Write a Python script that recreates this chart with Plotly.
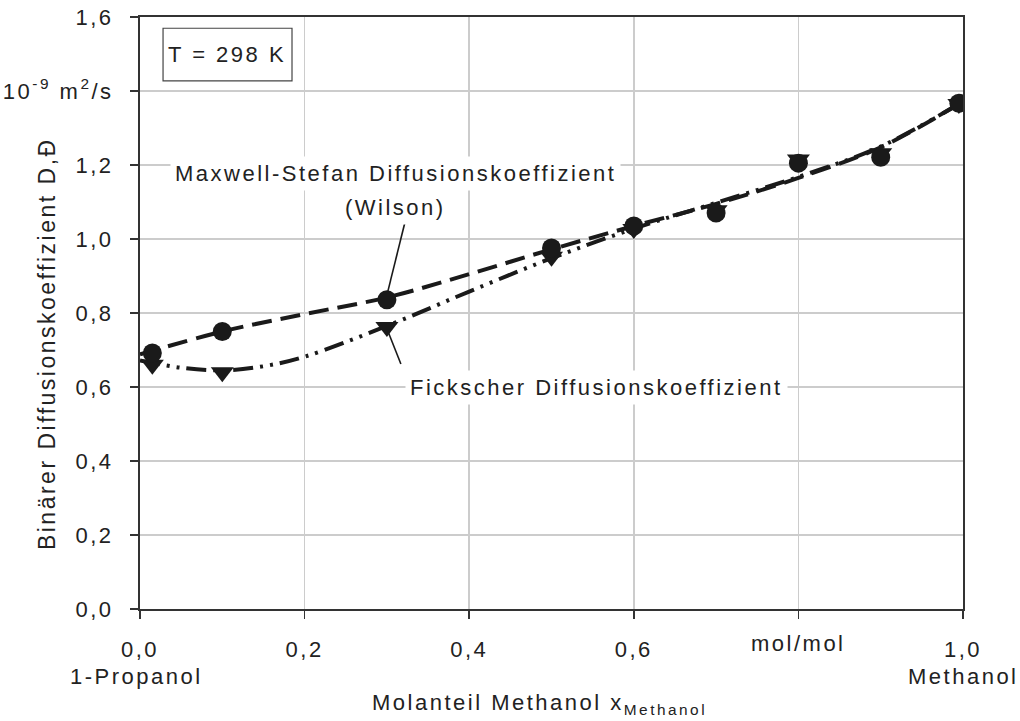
import plotly.graph_objects as go

# Measured points (mole fraction methanol)
x_meas = [0.015, 0.1, 0.3, 0.5, 0.6, 0.7, 0.8, 0.9, 0.995]
d_ms_meas = [0.692, 0.750, 0.836, 0.976, 1.035, 1.070, 1.205, 1.221, 1.367]
d_fick_meas = [0.660, 0.640, 0.762, 0.952, 1.027, 1.078, 1.215, 1.232, 1.365]

# Model curves
x_ms_curve = [0.0, 0.1, 0.2, 0.3, 0.4, 0.5, 0.6, 0.7, 0.8, 0.9, 0.995]
d_ms_curve = [0.688, 0.750, 0.797, 0.842, 0.905, 0.972, 1.035, 1.095, 1.165, 1.248, 1.365]
x_fick_curve = [0.0, 0.05, 0.1, 0.15, 0.2, 0.3, 0.4, 0.5, 0.6, 0.7, 0.8, 0.9, 0.995]
d_fick_curve = [0.672, 0.652, 0.645, 0.656, 0.682, 0.765, 0.858, 0.948, 1.028, 1.098, 1.168, 1.250, 1.365]

x_tickvals = [0.0, 0.2, 0.4, 0.6, 0.8, 1.0]
x_ticktext = ["0,0", "0,2", "0,4", "0,6", "", "1,0"]
y_tickvals = [0.0, 0.2, 0.4, 0.6, 0.8, 1.0, 1.2, 1.4, 1.6]
y_ticktext = ["0,0", "0,2", "0,4", "0,6", "0,8", "1,0", "1,2", "10<sup>-9</sup> m<sup>2</sup>/s", "1,6"]

INK = "#1a1a1a"
TXT = "#222222"
GRID = "#cccccc"
AX = "#333333"

fig = go.Figure()

fig.add_trace(go.Scatter(
    x=x_fick_curve, y=d_fick_curve, mode="lines",
    line=dict(color=INK, width=4, shape="spline", smoothing=1.0,
              dash="20px,7px,3px,7px,3px,7px"),
    hoverinfo="skip"))
fig.add_trace(go.Scatter(
    x=x_ms_curve, y=d_ms_curve, mode="lines",
    line=dict(color=INK, width=4, shape="spline", smoothing=1.0, dash="20px,9px"),
    hoverinfo="skip"))
fig.add_trace(go.Scatter(
    x=x_meas, y=d_fick_meas, mode="markers",
    marker=dict(symbol="triangle-down", size=20, color=INK, line=dict(width=0))))
fig.add_trace(go.Scatter(
    x=x_meas, y=d_ms_meas, mode="markers",
    marker=dict(symbol="circle", size=19, color=INK, line=dict(width=0))))

# Leader lines to the labelled points
fig.add_shape(type="line", xref="x", yref="y", x0=0.322, y0=1.046, x1=0.301, y1=0.857,
              line=dict(color=INK, width=1.6))
fig.add_shape(type="line", xref="x", yref="y", x0=0.301, y0=0.752, x1=0.317, y1=0.662,
              line=dict(color=INK, width=1.6))

# Temperature box
fig.add_shape(type="rect", xref="paper", yref="paper", x0=0.028, x1=0.1847, y0=0.892, y1=0.981,
              fillcolor="white", line=dict(color="#444444", width=1.2), layer="above")

ann_font = dict(size=22, color=TXT)
fig.add_annotation(x=0.106, y=0.9365, xref="paper", yref="paper", text="T = 298 K",
                   showarrow=False, font=ann_font, xanchor="center", yanchor="middle")
fig.add_annotation(x=0.311, y=1.178, xref="x", yref="y",
                   text="Maxwell-Stefan Diffusionskoeffizient", showarrow=False,
                   font=ann_font, bgcolor="white", borderpad=4)
fig.add_annotation(x=0.311, y=1.084, xref="x", yref="y", text="(Wilson)", showarrow=False,
                   font=ann_font, bgcolor="white", borderpad=4)
fig.add_annotation(x=0.555, y=0.600, xref="x", yref="y",
                   text="Fickscher Diffusionskoeffizient", showarrow=False,
                   font=ann_font, bgcolor="white", borderpad=4)

# Axis titles, unit and end-member labels
fig.add_annotation(x=-0.113, y=0.716 / 1.6, xref="paper", yref="paper",
                   text="Binärer Diffusionskoeffizient D,Đ", textangle=-90,
                   showarrow=False, font=dict(size=23, color=TXT),
                   xanchor="center", yanchor="middle")
fig.add_annotation(x=0.486, y=-0.160, xref="paper", yref="paper",
                   text="Molanteil Methanol x<sub>Methanol</sub>",
                   showarrow=False, font=ann_font, xanchor="center", yanchor="middle")
fig.add_annotation(x=-0.088, y=-0.1135, xref="paper", yref="paper", text="1-Propanol",
                   showarrow=False, font=ann_font, xanchor="left", yanchor="middle")
fig.add_annotation(x=1.0, y=-0.1135, xref="paper", yref="paper", text="Methanol",
                   showarrow=False, font=ann_font, xanchor="center", yanchor="middle")
fig.add_annotation(x=0.8, y=-0.059, xref="x", yref="paper", text="mol/mol",
                   showarrow=False, font=ann_font, xanchor="center", yanchor="middle")

axis_common = dict(showgrid=True, gridcolor=GRID, gridwidth=1.5, zeroline=False,
                   showline=True, linecolor=AX, linewidth=2, mirror=True,
                   ticks="outside", ticklen=8, tickwidth=1.5, tickcolor=AX,
                   automargin=False, tickfont=dict(size=22, color=TXT))

fig.update_layout(
    width=1020, height=721,
    margin=dict(l=140, r=57, t=17, b=112),
    paper_bgcolor="white", plot_bgcolor="white",
    showlegend=False,
    font=dict(family="Liberation Sans", size=22, color=TXT),
    xaxis=dict(range=[0, 1], tickvals=x_tickvals, ticktext=x_ticktext,
               ticklabelstandoff=12, **axis_common),
    yaxis=dict(range=[0, 1.6], tickvals=y_tickvals, ticktext=y_ticktext,
               ticklabelstandoff=12, **axis_common),
)

# Slightly tracked lettering, applied before a redraw so Plotly measures it
post = """
var gd = document.getElementById('{plot_id}');
var st = document.createElement('style');
st.textContent = 'text { letter-spacing: 2.5px; }';
document.head.appendChild(st);
return Plotly.relayout(gd, {'font.family': 'Liberation Sans, Arial, sans-serif'});
"""

fig.write_html("out.html", config={"staticPlot": True}, post_script=post)
